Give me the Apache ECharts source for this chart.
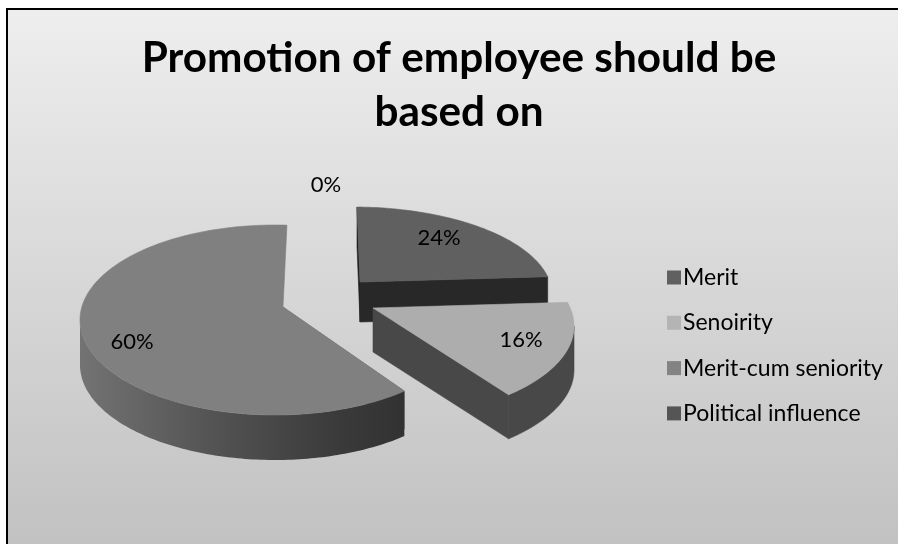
<!DOCTYPE html>
<html>
<head>
<meta charset="utf-8">
<script src="https://cdn.jsdelivr.net/npm/echarts@6/dist/echarts.min.js"></script>
<style>html,body{margin:0;padding:0;background:#fff}#chart{width:898px;height:544px}</style>
</head>
<body>
<div id="chart"></div>
<script>
// Survey shares, in percent
const categories = ['Merit', 'Senoirity', 'Merit-cum seniority', 'Political influence'];
const shares = [24, 16, 60, 0];
const titleLines = ['Promotion of employee should be', 'based on'];

// Each slice has its own projected disc: ellipse, apex and extruded depth
const sliceViews = [
  { cx: 353, cy: 295, rx: 199, ry: 88, ax: 360, ay: 282, shear: -3.5, depth: 40, top: '#606060', wall: '#282828', label: [439, 238], z: 3 },
  { cx: 374, cy: 326, rx: 200, ry: 93, ax: 373, ay: 308, shear: 0, depth: 44, top: '#adadad', wall: '#484848', label: [521, 340], z: 4 },
  { cx: 275, cy: 320, rx: 195, ry: 95, ax: 283, ay: 307, shear: 4.6, depth: 45, top: '#808080', wall: '#6a6a6a', label: [132, 342], z: 2 },
  { cx: 326, cy: 300, rx: 195, ry: 95, ax: 326, ay: 300, shear: 0, depth: 0, top: '#555555', wall: '#555555', label: [326, 185], z: 2 }
];
const FONT = 'Lato, "Open Sans", sans-serif';
const TAU = Math.PI * 2;

// Where the ray from the apex at a pie angle meets the rim, as an ellipse parameter
function rimParam(v, angle) {
  const dx = v.rx * Math.sin(angle) + v.shear * Math.cos(angle);
  const dy = -v.ry * Math.cos(angle);
  const ex = (v.ax - v.cx) / v.rx, ey = (v.ay - v.cy) / v.ry;
  const px = dx / v.rx, py = dy / v.ry;
  const a = px * px + py * py, b = 2 * (ex * px + ey * py), c = ex * ex + ey * ey - 1;
  const s = (-b + Math.sqrt(b * b - 4 * a * c)) / (2 * a);
  return Math.atan2(ex + s * px, -(ey + s * py));
}
function rimPoint(v, t) {
  return [v.cx + v.rx * Math.sin(t), v.cy - v.ry * Math.cos(t)];
}
function arc(v, t0, t1) {
  const pts = [];
  const n = Math.max(2, Math.ceil(Math.abs(t1 - t0) / 0.02));
  for (let i = 0; i <= n; i++) pts.push(rimPoint(v, t0 + (t1 - t0) * i / n));
  return pts;
}
const lower = (pts, d) => pts.map(p => [p[0], p[1] + d]);
const poly = (points, fill) => ({
  type: 'polygon', shape: { points }, silent: true,
  style: typeof fill === 'string' ? { fill, stroke: fill, lineWidth: 0.6 } : { fill }
});

function sliceElements(index, value) {
  const v = sliceViews[index];
  const label = {
    type: 'text', x: v.label[0], y: v.label[1], silent: true, z2: 10,
    style: { text: value + '%', fill: '#000', font: '22px ' + FONT, align: 'center', verticalAlign: 'middle' }
  };
  if (value === 0) return [label];

  const total = shares.reduce((s, x) => s + x, 0);
  const before = shares.slice(0, index).reduce((s, x) => s + x, 0);
  const a0 = before / total * TAU, a1 = (before + value) / total * TAU;
  const t0 = rimParam(v, a0);
  let t1 = rimParam(v, a1);
  while (t1 <= t0) t1 += TAU;
  const apex = [v.ax, v.ay];
  const startPt = rimPoint(v, t0), endPt = rimPoint(v, t1);
  const kids = [];

  // Cut faces of the extrusion that turn toward the viewer
  if (index === 0) {
    kids.push(poly([startPt, [startPt[0], startPt[1] + v.depth], [v.ax, v.ay + v.depth], apex], '#1e1e1e'));
    kids.push(poly([apex, endPt, [endPt[0], endPt[1] + v.depth], [v.ax, v.ay + v.depth]], v.wall));
  }
  if (index === 1) {
    kids.push(poly([apex, endPt, [endPt[0], endPt[1] + v.depth], [v.ax, v.ay + v.depth]], v.wall));
  }
  if (index === 2) {
    kids.push(poly([startPt, [startPt[0], startPt[1] + 38], [v.ax, v.ay + v.depth], apex], v.wall));
  }

  // Front of the rim: only the lower half of the ellipse shows its side
  const f0 = Math.max(t0, Math.PI / 2);
  const f1 = Math.min(t1, Math.PI * 1.5);
  if (f1 > f0) {
    const edge = arc(v, f0, f1);
    const fill = index === 2
      ? { type: 'linear', x: 1, y: 0, x2: 0, y2: 0, colorStops: [
          { offset: 0, color: '#323232' }, { offset: 0.2, color: '#3a3a3a' },
          { offset: 0.6, color: '#545454' }, { offset: 1, color: '#737373' }] }
      : v.wall;
    kids.push(poly(edge.concat(lower(edge, v.depth).reverse()), fill));
  }

  kids.push(poly([apex].concat(arc(v, t0, t1)), v.top));
  kids.push(label);
  return kids;
}

const legendColors = ['#606060', '#b4b4b4', '#838383', '#555555'];
const series = categories.map((name, i) => ({
  type: 'custom',
  name,
  coordinateSystem: 'none',
  z: sliceViews[i].z,
  silent: true,
  animation: false,
  itemStyle: { color: legendColors[i] },
  data: [{ name, value: shares[i] }],
  renderItem: (params, api) => ({ type: 'group', children: sliceElements(i, api.value(0)) })
}));

const chart = echarts.init(document.getElementById('chart'), null, { renderer: 'canvas' });
chart.setOption({
  animation: false,
  backgroundColor: '#ffffff',
  graphic: [{
    type: 'rect', z: -10, silent: true,
    shape: { x: 7, y: 9, width: 895, height: 540 },
    style: {
      stroke: '#000', lineWidth: 2,
      fill: { type: 'linear', x: 0, y: 0, x2: 0, y2: 1, colorStops: [
        { offset: 0, color: '#eeeeee' }, { offset: 1, color: '#c1c1c1' }] }
    }
  }],
  title: {
    text: titleLines.join('\n'),
    left: 454, top: 26, textAlign: 'center',
    textStyle: { fontFamily: FONT, fontWeight: 'bold', fontSize: 42.3, lineHeight: 54, color: '#000' }
  },
  legend: {
    orient: 'vertical', left: 662, top: 261,
    itemWidth: 14, itemHeight: 14, itemGap: 22.3, icon: 'rect',
    selectedMode: false,
    data: categories,
    textStyle: { fontFamily: FONT, fontSize: 23, color: '#000', padding: [0, 0, 0, -3] }
  },
  series
});
</script>
</body>
</html>
